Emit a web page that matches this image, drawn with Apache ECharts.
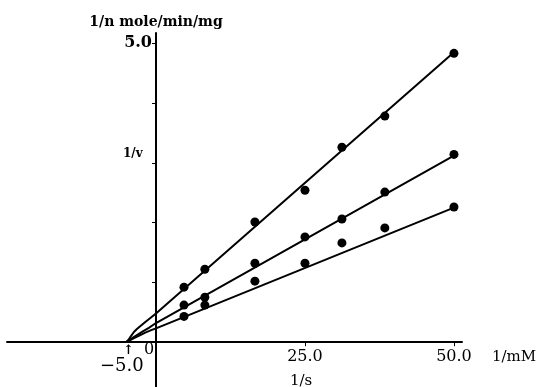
<!DOCTYPE html>
<html>
<head>
<meta charset="utf-8">
<script src="https://cdn.jsdelivr.net/npm/echarts@6/dist/echarts.min.js"></script>
<style>
	html, body { margin: 0; padding: 0; background: #fff; }
	#chart { width: 540px; height: 387px; }
</style>
</head>
<body>
<div id="chart"></div>
<script type="text/javascript">
	// 1/s 值 (1/mM)
	var invS = [4.7, 8.2, 16.6, 25.0, 31.2, 38.4, 50.0];
	// 三组 1/v 测量值
	var invV1 = [0.92, 1.22, 2.01, 2.54, 3.26, 3.78, 4.83];
	var invV2 = [0.62, 0.75, 1.32, 1.76, 2.06, 2.51, 3.14];
	var invV3 = [0.43, 0.62, 1.02, 1.32, 1.66, 1.91, 2.26];
	// 拟合线 (汇于 -5.0)
	var fitX1 = [-5.0, -4.6, -4.2, -3.7, -3.2, -2.0, 0, 50];
	var fitY1 = [0, 0.04, 0.10, 0.17, 0.22, 0.32, 0.48, 4.85];
	var fitX2 = [-5.0, -4.5, -3.8, -3.0, -2.2, -1.2, 0, 50];
	var fitY2 = [0, 0.03, 0.08, 0.13, 0.18, 0.24, 0.32, 3.12];
	var fitX3 = [-5.0, -4.4, -3.6, -2.8, -1.8, -0.8, 0, 50];
	var fitY3 = [0, 0.03, 0.07, 0.11, 0.16, 0.20, 0.23, 2.25];
	var xTicks = [25, 50];
	var yTicks = [1, 2, 3, 4, 5];
	var yLabels = [5];

	function pairs(xs, ys) {
		var out = [];
		for (var i = 0; i < xs.length; i++) out.push([xs[i], ys[i]]);
		return out;
	}

	var font = 'DejaVu Serif';
	var chart = echarts.init(document.getElementById('chart'));

	function fitSeries(xs, ys) {
		return {
			type: 'line',
			data: pairs(xs, ys),
			smooth: false,
			symbol: 'none',
			lineStyle: { color: '#000', width: 2, join: 'round' },
			z: 2
		};
	}
	function dotSeries(ys) {
		return {
			type: 'scatter',
			data: pairs(invS, ys),
			symbolSize: 9,
			itemStyle: { color: '#000', opacity: 1 },
			z: 3
		};
	}

	var option = {
		backgroundColor: '#fff',
		animation: false,
		grid: {
			left: 7, top: 33, width: 455, height: 354,
			containLabel: false,
			outerBoundsMode: 'none'
		},
		xAxis: {
			type: 'value',
			min: -25, max: 51.35,
			offset: -44.8,
			splitLine: { show: false },
			axisLine: { onZero: false, lineStyle: { color: '#000', width: 2 } },
			axisTick: { customValues: xTicks, length: 4, lineStyle: { color: '#000' } },
			axisLabel: {
				customValues: xTicks,
				formatter: function (v) { return v.toFixed(1); },
				color: '#000', fontFamily: font, fontSize: 16, margin: 7
			}
		},
		yAxis: {
			type: 'value',
			min: -0.75, max: 5.17,
			offset: -149,
			name: '1/n mole/min/mg',
			nameLocation: 'end',
			nameGap: 4,
			nameTextStyle: { color: '#000', fontFamily: font, fontSize: 14, fontWeight: 'bold' },
			splitLine: { show: false },
			axisLine: { onZero: false, lineStyle: { color: '#000', width: 2 } },
			axisTick: { customValues: yTicks, length: 4, lineStyle: { color: '#000' } },
			axisLabel: {
				customValues: yLabels,
				formatter: function (v) { return v.toFixed(1); },
				color: '#000', fontFamily: font, fontSize: 16, fontWeight: 'bold', margin: 4
			}
		},
		graphic: [
			{ type: 'text', left: 123, top: 148, style: { text: '1/v', font: 'bold 12px "DejaVu Serif"', fill: '#000' } },
			{ type: 'text', left: 100, top: 357, style: { text: '\u22125.0', font: '18px "DejaVu Serif"', fill: '#000' } },
			{ type: 'text', left: 123, top: 344, style: { text: '\u2191', font: 'bold 13px "DejaVu Serif"', fill: '#000' } },
			{ type: 'text', left: 144, top: 342, style: { text: '0', font: '16px "DejaVu Serif"', fill: '#000' } },
			{ type: 'text', left: 492, top: 350, style: { text: '1/mM', font: '15px "DejaVu Serif"', fill: '#000' } },
			{ type: 'text', left: 290, top: 374, style: { text: '1/s', font: '15px "DejaVu Serif"', fill: '#000' } }
		],
		series: [
			fitSeries(fitX1, fitY1),
			fitSeries(fitX2, fitY2),
			fitSeries(fitX3, fitY3),
			dotSeries(invV1),
			dotSeries(invV2),
			dotSeries(invV3)
		]
	};
	chart.setOption(option);
</script>
</body>
</html>
